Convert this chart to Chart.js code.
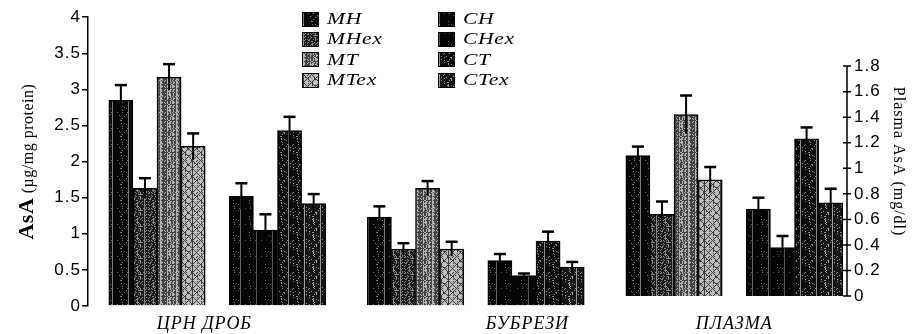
<!DOCTYPE html>
<html>
<head>
<meta charset="utf-8">
<script src="https://cdn.jsdelivr.net/npm/chart.js@4/dist/chart.umd.min.js"></script>
<style>
  html, body { margin: 0; padding: 0; background: #fff; }
  #wrap { position: relative; width: 912px; height: 334px; }
  #legend {
    position: absolute; left: 302px; top: 9px;
    display: grid; grid-template-columns: 136px 120px;
    grid-template-rows: repeat(4, 20.3px); grid-auto-flow: column;
    font: italic 16px 'Liberation Serif', serif; color: #000;
  }
  .item { display: flex; align-items: center; }
  .sw { width: 17px; height: 15px; margin-right: 8px; box-sizing: border-box; border: 1px solid #000; }
  .lbl { display: inline-block; transform: scaleX(1.35); transform-origin: left center; letter-spacing: 0.5px; }
</style>
</head>
<body>
<div id="wrap">
  <canvas id="c" width="912" height="334"></canvas>
  <div id="legend"></div>
</div>
<script>
// Groups along the x axis and the series drawn in each group
const categories = ['ЦРН ДРОБ', 'БУБРЕЗИ', 'ПЛАЗМА'];
const seriesNames = ['MH', 'MHex', 'MT', 'MTex', 'CH', 'CHex', 'CT', 'CTex'];

// Tissue AsA, µg/mg protein (left axis)
const liverMeans  = [2.85, 1.63, 3.17, 2.21, 1.52, 1.05, 2.43, 1.42];
const liverErr    = [0.21, 0.14, 0.18, 0.18, 0.18, 0.22, 0.19, 0.13];
const kidneyMeans = [1.23, 0.79, 1.63, 0.79, 0.63, 0.42, 0.90, 0.54];
const kidneyErr   = [0.15, 0.08, 0.10, 0.10, 0.09, 0.03, 0.13, 0.07];

// Plasma AsA, mg/dl (right axis)
const plasmaMeans = [1.10, 0.64, 1.42, 0.91, 0.68, 0.38, 1.23, 0.73];
const plasmaErr   = [0.07, 0.10, 0.15, 0.10, 0.09, 0.09, 0.09, 0.11];

// Tick labels
const leftTicks  = [0, 0.5, 1, 1.5, 2, 2.5, 3, 3.5, 4];
const rightTicks = [0, 0.2, 0.4, 0.6, 0.8, 1, 1.2, 1.4, 1.6, 1.8];

// Fill textures per series (halftone look)
const seriesLook = [
  { base: '#080808', ink: '#7a7a7a', kind: 'speck',   dens: 5 },
  { base: '#1c1c1c', ink: '#8a8a8a', kind: 'speck',   dens: 30 },
  { base: '#444444', ink: '#b4b4b4', kind: 'stripe',  dens: 22 },
  { base: '#bdbdbd', ink: '#3a3a3a', kind: 'diamond', dens: 10 },
  { base: '#050505', ink: '#666666', kind: 'speck',   dens: 3 },
  { base: '#030303', ink: '#555555', kind: 'speck',   dens: 2 },
  { base: '#0c0c0c', ink: '#8a8a8a', kind: 'speck',   dens: 10 },
  { base: '#161616', ink: '#999999', kind: 'speck',   dens: 15 }
];

function makeTile(look) {
  const n = 16;
  const c = document.createElement('canvas');
  c.width = n; c.height = n;
  const g = c.getContext('2d');
  g.fillStyle = look.base; g.fillRect(0, 0, n, n);
  g.fillStyle = look.ink;
  for (let y = 0; y < n; y++) {
    for (let x = 0; x < n; x++) {
      const h = (x * 131 + y * 71 + x * y * 17 + (x ^ y) * 29) % 100;
      let on = h < look.dens;
      if (look.kind === 'stripe') on = on || (x % 3 === 1 && h % 4 !== 0);
      if (look.kind === 'diamond') on = on || (x + y) % 8 === 0 || (x - y + 16) % 8 === 0;
      if (on) g.fillRect(x, y, 1, 1);
    }
  }
  return c;
}

const canvas = document.getElementById('c');
const ctx2d = canvas.getContext('2d');
const tiles = seriesLook.map(makeTile);
const fills = tiles.map(t => ctx2d.createPattern(t, 'repeat'));

// Legend: two columns of four
const legendEl = document.getElementById('legend');
seriesNames.forEach((name, i) => {
  const item = document.createElement('div');
  item.className = 'item';
  const sw = document.createElement('span');
  sw.className = 'sw';
  sw.style.backgroundImage = 'url(' + tiles[i].toDataURL() + ')';
  const lbl = document.createElement('span');
  lbl.className = 'lbl';
  lbl.textContent = name;
  item.appendChild(sw); item.appendChild(lbl);
  legendEl.appendChild(item);
});

// Datasets: tissue series on the left axis, plasma series on the right axis,
// and an empty slot between the M and C halves of every group
const barStyle = { borderColor: '#000', borderWidth: 1.5, skipNull: true, barThickness: 24.1 };
const datasets = [];
seriesNames.forEach((name, s) => {
  if (s === 4) {
    datasets.push({
      label: '', data: [0, 1, 2].map(x => ({ x, y: 0 })), yAxisID: 'y',
      backgroundColor: 'rgba(0,0,0,0)', borderWidth: 0, skipNull: true, barThickness: 24.1
    });
  }
  datasets.push(Object.assign({
    label: name, yAxisID: 'y', backgroundColor: fills[s],
    data: [{ x: 0, y: liverMeans[s] }, { x: 1, y: kidneyMeans[s] }],
    errors: [liverErr[s], kidneyErr[s]]
  }, barStyle));
  datasets.push(Object.assign({
    label: name, yAxisID: 'y2', backgroundColor: fills[s],
    data: [{ x: 2, y: plasmaMeans[s] }],
    errors: [plasmaErr[s]]
  }, barStyle));
});

// Where the group names sit along the x axis
const labelAt = [-0.05, 1.2, 2.0];

const tickFont = { family: "'Liberation Sans', Arial, sans-serif", size: 17 };

const spacing = {
  id: 'spacing',
  beforeUpdate(chart) { chart.ctx.letterSpacing = '1px'; },
  beforeDraw(chart) { chart.ctx.letterSpacing = '1px'; }
};

const errorBars = {
  id: 'errorBars',
  afterDatasetsDraw(chart) {
    const ctx = chart.ctx;
    chart.data.datasets.forEach((ds, i) => {
      if (!ds.errors) return;
      const meta = chart.getDatasetMeta(i);
      const sc = chart.scales[ds.yAxisID];
      meta.data.forEach((bar, j) => {
        const v = ds.data[j].y, e = ds.errors[j];
        const yt = sc.getPixelForValue(v + e), yb = sc.getPixelForValue(v - e);
        ctx.save();
        ctx.strokeStyle = '#000';
        ctx.lineWidth = 2;
        ctx.beginPath();
        ctx.moveTo(bar.x, yb); ctx.lineTo(bar.x, yt);
        ctx.stroke();
        ctx.lineWidth = 2.5;
        ctx.beginPath();
        ctx.moveTo(bar.x - 6, yt); ctx.lineTo(bar.x + 6, yt);
        ctx.stroke();
        ctx.restore();
      });
    });
  }
};

const rightAxisLine = {
  id: 'rightAxisLine',
  afterDraw(chart) {
    const s = chart.scales.y2, ctx = chart.ctx;
    const x = s.left;
    ctx.save();
    ctx.strokeStyle = '#000';
    ctx.lineWidth = 1.5;
    ctx.beginPath();
    ctx.moveTo(x, s.getPixelForValue(rightTicks[0]));
    ctx.lineTo(x, s.getPixelForValue(rightTicks[rightTicks.length - 1]));
    rightTicks.forEach(v => {
      const p = s.getPixelForValue(v);
      ctx.moveTo(x - 4, p); ctx.lineTo(x + 4, p);
    });
    ctx.stroke();
    ctx.restore();
  }
};

const titleMain = 'AsA';
const titleUnit = ' (µg/mg protein)';
const leftTitle = {
  id: 'leftTitle',
  afterDraw(chart) {
    const s = chart.scales.y, ctx = chart.ctx;
    const cy = (s.top + s.bottom) / 2;
    ctx.save();
    ctx.translate(33, cy);
    ctx.rotate(-Math.PI / 2);
    ctx.fillStyle = '#000';
    ctx.textBaseline = 'alphabetic';
    ctx.letterSpacing = '0.5px';
    const bold = "bold 22px 'Liberation Serif', serif";
    const reg = "16px 'Liberation Serif', serif";
    ctx.font = bold; const w1 = ctx.measureText(titleMain).width;
    ctx.font = reg; const w2 = ctx.measureText(titleUnit).width;
    const x0 = -(w1 + w2) / 2;
    ctx.font = bold; ctx.fillText(titleMain, x0, 0);
    ctx.font = reg; ctx.fillText(titleUnit, x0 + w1, 0);
    ctx.restore();
  }
};

const plainNumber = v => String(v);

new Chart(canvas, {
  type: 'bar',
  data: { datasets },
  plugins: [spacing, errorBars, rightAxisLine, leftTitle],
  options: {
    responsive: false,
    devicePixelRatio: 1,
    animation: false,
    layout: { padding: { top: 17, right: 2, bottom: 0, left: 0 } },
    plugins: { legend: { display: false }, tooltip: { enabled: false } },
    scales: {
      x: {
        type: 'linear', min: -0.5, max: 2.436, offset: false,
        grid: { display: false, drawTicks: false },
        border: { display: false },
        afterBuildTicks: s => { s.ticks = labelAt.map(v => ({ value: v })); },
        afterFit: s => { s.height = 28; },
        ticks: {
          autoSkip: false, maxRotation: 0, padding: 7, color: '#000',
          font: { family: "'Liberation Serif', serif", size: 18, style: 'italic' },
          callback: (v, i) => categories[i]
        }
      },
      y: {
        position: 'left', min: 0, max: 4,
        afterBuildTicks: s => { s.ticks = leftTicks.map(v => ({ value: v })); },
        afterFit: s => { s.width = 88; },
        grid: { display: true, drawOnChartArea: false, drawTicks: true, tickLength: 6, color: '#000', lineWidth: 1.5 },
        border: { display: true, color: '#000', width: 1.5 },
        ticks: { padding: 1, color: '#000', font: tickFont, callback: plainNumber }
      },
      y2: {
        position: 'right', min: -0.078, max: 2.183,
        afterBuildTicks: s => { s.ticks = rightTicks.map(v => ({ value: v })); },
        afterFit: s => { s.width = 63; },
        grid: { display: false, drawTicks: false },
        border: { display: false },
        ticks: { padding: 7, color: '#000', font: tickFont, callback: plainNumber },
        title: {
          display: true, text: 'Plasma AsA (mg/dl)', color: '#000',
          font: { family: "'Liberation Serif', serif", size: 16 },
          padding: { top: 2, bottom: 0 }
        }
      }
    }
  }
});
</script>
</body>
</html>
